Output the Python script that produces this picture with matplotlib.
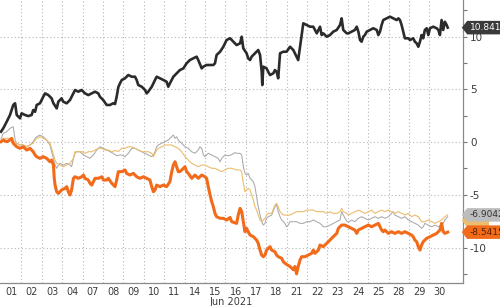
import numpy as np
import matplotlib
matplotlib.use("Agg")
import matplotlib.pyplot as plt
import matplotlib.transforms as mtransforms
from matplotlib.path import Path
from matplotlib.ticker import FixedLocator, NullFormatter

# ---- data: time in trading days since 01 Jun (fraction of day), value in %
day_labels = ["01", "02", "03", "04", "07", "08", "09", "10", "11", "14", "15",
              "16", "17", "18", "21", "22", "23", "24", "25", "28", "29", "30"]
month_label = "Jun 2021"

black_t = [0.00, 0.11, 0.28, 0.44, 0.60, 0.69, 0.77, 0.93, 1.01, 1.18, 1.34, 1.50, 1.58, 1.67, 1.75, 1.91,
           2.07, 2.16, 2.32, 2.48, 2.57, 2.73, 2.81, 2.97, 3.05, 3.22, 3.38, 3.46, 3.63, 3.79, 3.95, 4.12,
           4.28, 4.44, 4.61, 4.77, 4.85, 5.01, 5.18, 5.34, 5.50, 5.59, 5.67, 5.75, 5.83, 5.92, 6.08, 6.24,
           6.41, 6.57, 6.65, 6.73, 6.90, 7.06, 7.14, 7.22, 7.39, 7.55, 7.63, 7.79, 7.96, 8.12, 8.20, 8.28,
           8.45, 8.61, 8.77, 8.94, 9.10, 9.26, 9.43, 9.59, 9.67, 9.84, 9.92, 10.08, 10.25, 10.41, 10.49,
           10.57, 10.74, 10.90, 11.06, 11.23, 11.39, 11.55, 11.72, 11.80, 11.88, 12.04, 12.12, 12.21, 12.29,
           12.45, 12.61, 12.70, 12.78, 12.81, 12.86, 13.02, 13.10, 13.19, 13.35, 13.43, 13.51, 13.59, 13.68,
           13.84, 14.00, 14.17, 14.33, 14.41, 14.57, 14.66, 14.74, 14.82, 14.99, 15.15, 15.31, 15.48, 15.56,
           15.64, 15.72, 15.80, 15.97, 16.13, 16.29, 16.46, 16.62, 16.70, 16.78, 16.95, 17.03, 17.19, 17.35,
           17.44, 17.52, 17.60, 17.68, 17.76, 17.84, 17.93, 18.09, 18.25, 18.42, 18.50, 18.58, 18.66, 18.74,
           18.91, 19.07, 19.23, 19.40, 19.48, 19.56, 19.64, 19.72, 19.80, 19.97, 20.05, 20.21, 20.29, 20.38,
           20.46, 20.54, 20.62, 20.70, 20.78, 20.87, 20.95, 21.03, 21.19, 21.36, 21.44, 21.52, 21.60, 21.68,
           21.76, 21.85, 21.90]
black_v = [0.98, 1.30, 1.93, 2.56, 3.51, 3.67, 2.56, 2.25, 2.72, 2.56, 2.46, 2.56, 3.03, 2.87, 3.51, 3.67,
           4.29, 4.61, 4.45, 4.14, 3.67, 3.19, 3.82, 4.14, 3.82, 3.67, 3.98, 4.29, 4.93, 4.77, 4.93, 4.61,
           4.45, 4.61, 4.77, 4.61, 4.29, 3.98, 3.51, 3.51, 3.67, 3.60, 4.30, 5.20, 5.55, 5.88, 6.04, 6.35,
           6.19, 6.19, 5.88, 5.40, 5.24, 4.93, 4.61, 4.77, 5.24, 5.88, 6.19, 6.04, 5.88, 5.71, 5.24, 5.56,
           6.19, 6.51, 6.82, 6.98, 7.46, 7.77, 7.93, 8.09, 7.77, 6.98, 7.14, 7.30, 7.30, 7.30, 7.46,
           8.25, 8.56, 9.03, 9.67, 9.83, 9.51, 9.19, 9.35, 9.98, 8.88, 8.41, 7.93, 7.77, 8.09,
           8.41, 8.72, 8.25, 6.66, 5.40, 7.14, 6.98, 6.66, 6.35, 6.51, 6.82, 6.66, 6.04, 8.41,
           8.56, 8.56, 9.03, 8.72, 8.41, 7.77, 9.03, 10.14, 11.25, 11.09, 10.93, 10.93, 10.30, 10.62,
           10.93, 10.14, 10.30, 9.98, 10.14, 10.46, 10.62, 11.09, 11.72, 10.62, 10.30, 10.30, 10.46, 10.62,
           10.93, 10.46, 9.67, 9.51, 9.98, 10.14, 10.46, 10.62, 10.78, 10.62, 10.14, 10.46, 11.09, 11.56,
           11.72, 11.88, 11.72, 11.56, 11.72, 11.56, 11.09, 10.46, 9.83, 9.83, 9.67, 9.83, 9.51, 9.35,
           9.03, 9.51, 10.14, 9.83, 10.62, 10.78, 10.14, 10.78, 10.93, 10.78, 10.62, 10.14, 11.56, 10.62,
           11.40, 11.09, 10.8414]

orange_t = [0.00, 0.11, 0.28, 0.44, 0.52, 0.60, 0.77, 0.93, 1.09, 1.26, 1.42, 1.58, 1.67, 1.75, 1.91, 2.07,
            2.24, 2.40, 2.48, 2.57, 2.61, 2.65, 2.73, 2.81, 2.97, 3.14, 3.22, 3.30, 3.38, 3.46, 3.55, 3.63,
            3.79, 3.96, 4.04, 4.12, 4.28, 4.36, 4.45, 4.61, 4.77, 4.94, 5.02, 5.18, 5.26, 5.43, 5.59, 5.67,
            5.75, 5.92, 6.08, 6.16, 6.32, 6.49, 6.65, 6.81, 6.98, 7.14, 7.30, 7.39, 7.47, 7.55, 7.63, 7.79,
            7.96, 8.12, 8.28, 8.37, 8.45, 8.53, 8.61, 8.69, 8.77, 8.86, 8.94, 9.02, 9.10, 9.18, 9.35, 9.51,
            9.67, 9.84, 10.00, 10.08, 10.16, 10.25, 10.33, 10.41, 10.49, 10.57, 10.74, 10.90, 11.06, 11.23,
            11.31, 11.39, 11.55, 11.63, 11.72, 11.80, 11.88, 11.96, 12.04, 12.12, 12.21, 12.37, 12.53, 12.61,
            12.70, 12.78, 12.86, 12.94, 13.02, 13.10, 13.19, 13.27, 13.43, 13.51, 13.59, 13.76, 13.84, 14.00,
            14.17, 14.33, 14.41, 14.49, 14.57, 14.66, 14.74, 14.90, 15.06, 15.23, 15.31, 15.39, 15.56, 15.64,
            15.80, 15.97, 16.13, 16.29, 16.46, 16.54, 16.70, 16.86, 17.03, 17.19, 17.35, 17.44, 17.52, 17.68,
            17.84, 18.01, 18.17, 18.33, 18.50, 18.58, 18.66, 18.74, 18.82, 18.99, 19.15, 19.31, 19.48, 19.64,
            19.80, 19.97, 20.13, 20.21, 20.29, 20.38, 20.46, 20.54, 20.62, 20.70, 20.78, 20.87, 21.03, 21.19,
            21.36, 21.52, 21.60, 21.68, 21.76, 21.90]
orange_v = [0.03, 0.19, 0.03, 0.19, 0.35, -0.12, -0.45, -0.60, -0.45, -0.76, -0.60, -0.92, -1.23, -1.39, -1.55, -1.39,
            -1.55, -1.87, -1.71, -2.18, -3.44, -4.08, -4.71, -4.87, -4.55, -4.39, -4.23, -4.71, -5.02, -4.55, -3.44, -3.29,
            -3.44, -3.29, -3.13, -3.44, -3.60, -3.91, -4.08, -3.44, -3.44, -3.29, -3.60, -3.60, -3.44, -3.91, -4.23, -3.60,
            -2.81, -2.81, -2.65, -2.97, -3.13, -2.97, -3.29, -3.44, -3.29, -3.44, -3.60, -4.23, -4.71, -4.55, -4.08, -4.23,
            -4.08, -4.23, -3.76, -2.81, -2.18, -1.87, -2.34, -2.81, -2.81, -2.65, -2.49, -2.34, -2.81, -2.97, -3.44, -3.13,
            -3.44, -3.13, -3.29, -3.44, -4.23, -5.02, -5.66, -6.13, -6.76, -7.08, -7.23, -7.23, -7.39, -7.15,
            -7.55, -7.60, -7.71, -6.92, -6.29, -6.60, -7.55, -8.50, -8.18, -8.50, -8.82, -8.97, -9.29, -9.60,
            -10.24, -10.71, -10.87, -10.71, -10.24, -10.08, -9.92, -10.24, -10.40, -10.71, -10.87, -11.02, -11.35, -11.60,
            -11.80, -12.10, -11.80, -12.50, -11.80, -11.18, -10.87, -10.87, -10.71, -10.55, -10.24, -10.55, -10.24, -9.76,
            -9.92, -9.60, -9.29, -8.97, -8.66, -8.18, -7.87, -7.87, -8.03, -8.18, -8.34, -8.66, -8.34, -8.18,
            -8.03, -7.87, -8.03, -7.87, -7.71, -8.03, -8.34, -8.50, -8.34, -8.66, -8.50, -8.66, -8.50, -8.66,
            -8.50, -8.66, -8.82, -8.97, -9.29, -9.45, -9.92, -10.24, -9.76, -9.45, -9.29, -9.13, -8.97, -8.82,
            -8.66, -8.34, -7.71, -8.50, -8.66, -8.5415]

grey_t = [0.00, 0.11, 0.28, 0.44, 0.60, 0.69, 0.77, 0.93, 1.09, 1.26, 1.42, 1.58, 1.67, 1.75, 1.91, 2.07,
          2.24, 2.40, 2.48, 2.57, 2.65, 2.73, 2.81, 2.89, 3.05, 3.22, 3.38, 3.46, 3.55, 3.63, 3.71, 3.87,
          4.04, 4.20, 4.36, 4.53, 4.69, 4.85, 5.02, 5.18, 5.34, 5.50, 5.67, 5.83, 5.92, 6.08, 6.24, 6.41,
          6.57, 6.73, 6.90, 7.06, 7.22, 7.39, 7.47, 7.55, 7.63, 7.71, 7.88, 8.04, 8.20, 8.37, 8.45, 8.53,
          8.61, 8.69, 8.86, 9.02, 9.18, 9.35, 9.51, 9.67, 9.75, 9.84, 9.92, 10.00, 10.16, 10.33, 10.49, 10.65,
          10.74, 10.82, 10.98, 11.14, 11.31, 11.47, 11.55, 11.72, 11.80, 11.88, 11.96, 12.04, 12.12, 12.21,
          12.29, 12.37, 12.45, 12.53, 12.61, 12.70, 12.78, 12.86, 12.94, 13.02, 13.10, 13.27, 13.43, 13.51,
          13.59, 13.68, 13.76, 13.84, 13.92, 14.00, 14.08, 14.17, 14.33, 14.49, 14.66, 14.82, 14.99, 15.15,
          15.31, 15.48, 15.64, 15.80, 15.97, 16.13, 16.29, 16.46, 16.62, 16.70, 16.78, 16.95, 17.03, 17.19,
          17.35, 17.52, 17.68, 17.84, 18.01, 18.17, 18.33, 18.50, 18.66, 18.82, 18.99, 19.15, 19.23, 19.31,
          19.48, 19.64, 19.80, 19.97, 20.13, 20.29, 20.46, 20.62, 20.70, 20.78, 20.95, 21.11, 21.28, 21.44,
          21.60, 21.68, 21.76, 21.90]
grey_v = [0.30, 0.82, 0.98, 1.30, 1.45, 0.19, -0.12, -0.28, -0.28, -0.45, -0.28, 0.03, 0.35, 0.50, 0.66, 0.50,
          0.19, -0.28, -0.92, -1.55, -2.18, -2.49, -2.18, -2.02, -2.18, -2.02, -2.18, -2.34, -1.55, -1.07, -0.92, -0.92,
          -1.23, -1.39, -1.55, -1.23, -0.76, -0.45, -0.60, -0.76, -0.92, -1.07, -1.30, -1.23, -1.23, -1.39, -1.07, -0.60,
          -0.60, -0.76, -0.92, -1.07, -1.23, -1.39, -1.23, -0.92, -0.45, -0.28, -0.12, 0.03, 0.19, 0.50, 0.66, 0.35,
          0.50, 0.19, -0.12, -0.45, -0.60, -0.92, -1.07, -0.76, -0.45, -0.60, -1.23, -1.39, -1.07, -1.23, -1.39, -1.55,
          -1.87, -1.55, -1.23, -1.30, -1.20, -1.00, -1.07, -1.07, -1.23, -2.34, -2.97, -3.13, -2.97, -3.44,
          -3.60, -3.76, -4.23, -5.18, -6.13, -6.92, -7.55, -7.87, -7.71, -7.23, -7.08, -6.92, -6.13, -5.97,
          -6.60, -7.08, -7.39, -7.55, -7.71, -8.03, -7.87, -7.55, -7.55, -7.55, -7.71, -7.71, -7.55, -7.55,
          -7.39, -7.55, -7.71, -8.03, -8.03, -7.87, -7.71, -7.55, -7.39, -6.60, -6.92, -7.50, -7.60, -7.39,
          -7.55, -7.23, -7.08, -7.23, -7.39, -7.23, -7.08, -7.23, -7.08, -7.23, -7.08, -6.76, -6.60, -6.92,
          -7.08, -7.23, -7.08, -7.39, -7.55, -7.71, -7.87, -8.18, -8.03, -7.71, -7.87, -8.03, -7.87, -8.03,
          -7.87, -7.71, -7.39, -7.08]

tan_t = [0.00, 0.11, 0.28, 0.44, 0.60, 0.77, 0.93, 1.09, 1.26, 1.42, 1.58, 1.67, 1.75, 1.91, 2.07, 2.24,
         2.40, 2.48, 2.57, 2.65, 2.73, 2.89, 3.05, 3.22, 3.38, 3.55, 3.63, 3.79, 3.96, 4.12, 4.28, 4.44,
         4.61, 4.77, 4.94, 5.10, 5.26, 5.43, 5.59, 5.75, 5.92, 6.08, 6.24, 6.41, 6.57, 6.73, 6.90, 7.06,
         7.22, 7.39, 7.47, 7.55, 7.63, 7.71, 7.88, 8.04, 8.20, 8.37, 8.53, 8.69, 8.86, 9.02, 9.18, 9.35,
         9.51, 9.67, 9.84, 10.00, 10.16, 10.33, 10.49, 10.65, 10.82, 10.98, 11.14, 11.31, 11.55, 11.72,
         11.80, 11.88, 11.96, 12.04, 12.12, 12.21, 12.29, 12.37, 12.45, 12.53, 12.61, 12.70, 12.78, 12.86,
         12.94, 13.02, 13.10, 13.27, 13.43, 13.51, 13.59, 13.68, 13.76, 13.84, 14.00, 14.17, 14.33, 14.49,
         14.66, 14.82, 14.99, 15.15, 15.31, 15.48, 15.64, 15.80, 15.97, 16.13, 16.29, 16.46, 16.62, 16.70,
         16.78, 16.95, 17.03, 17.19, 17.35, 17.52, 17.68, 17.84, 18.01, 18.17, 18.33, 18.50, 18.66, 18.82,
         18.99, 19.15, 19.31, 19.48, 19.64, 19.80, 19.97, 20.13, 20.29, 20.46, 20.62, 20.78, 20.95, 21.11,
         21.28, 21.44, 21.60, 21.68, 21.76, 21.90]
tan_v = [0.00, 0.35, 0.35, 0.35, 0.03, -0.12, -0.28, -0.28, -0.45, -0.28, -0.12, 0.19, 0.35, 0.50, 0.35, 0.19,
         -0.12, -0.60, -1.23, -1.71, -2.02, -2.18, -2.34, -2.18, -2.02, -1.55, -0.92, -0.92, -0.92, -1.07, -0.92, -0.92,
         -0.76, -0.60, -0.60, -0.76, -0.76, -0.92, -0.80, -0.90, -0.60, -0.60, -0.45, -0.45, -0.60, -0.76, -0.92, -0.92,
         -0.92, -1.07, -1.39, -1.07, -0.76, -0.60, -0.45, -0.28, -0.28, -0.28, -0.45, -0.60, -0.92, -1.39, -1.71, -2.02,
         -2.18, -2.34, -2.18, -2.18, -2.34, -2.49, -2.49, -2.65, -2.81, -2.65, -2.49, -2.49, -2.65, -2.65,
         -2.81, -3.91, -4.71, -4.55, -4.39, -4.55, -5.02, -5.50, -6.13, -6.45, -6.92, -7.39, -7.55, -7.39,
         -7.23, -6.92, -6.76, -6.76, -5.97, -5.81, -6.13, -6.60, -6.76, -6.92, -6.92, -6.92, -6.76, -6.60,
         -6.60, -6.60, -6.45, -6.45, -6.45, -6.60, -6.60, -6.60, -6.76, -6.60, -6.76, -6.76, -6.60, -6.29,
         -6.60, -6.76, -6.92, -6.76, -6.60, -6.45, -6.60, -6.76, -6.60, -6.45, -6.76, -6.60, -6.45, -6.60,
         -6.45, -6.60, -6.76, -6.60, -6.76, -6.92, -6.76, -7.08, -6.92, -7.08, -7.55, -7.55, -7.39, -7.55,
         -7.71, -7.55, -7.39, -7.23, -7.08, -6.9042]

y_major = [-10, -5, 0, 5, 10]
y_minor = [-12.5, -7.5, -2.5, 2.5, 7.5, 12.5]

# ---- styles
c_black = "#2b2b2b"
c_orange = "#f26b1a"
c_grey = "#a9a9a9"
c_tan = "#ebbd6c"
c_text = "#3c3c3c"
c_grid = "#b5b5b5"

plt.rcParams["font.family"] = ["DejaVu Sans"]

fig = plt.figure(figsize=(5.0, 3.06), dpi=100)
fig.patch.set_facecolor("white")
ax = fig.add_axes([0.0, 0.0752, 0.926, 0.9248])

ax.plot(grey_t, grey_v, color=c_grey, lw=0.75, zorder=3)
ax.plot(tan_t, tan_v, color=c_tan, lw=0.8, zorder=3)
ax.plot(orange_t, orange_v, color=c_orange, lw=2.2, zorder=4, solid_joinstyle="round")
ax.plot(black_t, black_v, color=c_black, lw=1.9, zorder=5, solid_joinstyle="round")

ax.set_xlim(-0.05, 22.65)
ax.set_ylim(-13.36, 13.46)

# x: gridlines at day boundaries, labels at day centres
ax.xaxis.set_major_locator(FixedLocator(np.arange(1, len(day_labels))))
ax.xaxis.set_major_formatter(NullFormatter())
ax.xaxis.set_minor_locator(FixedLocator(np.arange(len(day_labels)) + 0.5))
ax.set_xticklabels(day_labels, minor=True)
ax.tick_params(axis="x", which="both", length=0, pad=3, labelsize=7, labelcolor=c_text)
ax.set_xlabel(month_label, fontsize=7, color=c_text, labelpad=0)

# y: right side
ax.yaxis.tick_right()
ax.set_yticks(y_major)
ax.set_yticks(y_minor, minor=True)
ax.set_yticklabels([str(v) for v in y_major])
ax.tick_params(axis="y", which="both", direction="out", length=3, width=0.8,
               color="#777777", labelsize=7.5, labelcolor=c_text, pad=2)

ax.grid(True, which="major", axis="both", linestyle=(0, (1, 2.2)), color=c_grid, lw=0.8)
ax.set_axisbelow(True)

for s in ("left", "top"):
    ax.spines[s].set_visible(False)
for s in ("right", "bottom"):
    ax.spines[s].set_color("#8a8a8a")
    ax.spines[s].set_linewidth(0.9)


def tag_box(x0, y0, width, height, mutation_size):
    """Rectangle with a pointed left end (price tag)."""
    pad = 0.25 * mutation_size
    x0, y0 = x0 - pad, y0 - pad
    w, h = width + 2 * pad, height + 2 * pad
    tip = 0.4 * h
    verts = [(x0 - tip, y0 + h / 2), (x0, y0 + h), (x0 + w, y0 + h),
             (x0 + w, y0), (x0, y0), (x0 - tip, y0 + h / 2)]
    codes = [Path.MOVETO] + [Path.LINETO] * 4 + [Path.CLOSEPOLY]
    return Path(verts, codes)


# value tags at the right edge
trans = mtransforms.blended_transform_factory(ax.transAxes, ax.transData)
tag_x = 1.014
# hidden tag (behind the others), box only
ax.text(tag_x, grey_v[-1] - 0.35, "      ", transform=trans, ha="left", va="center",
        fontsize=6.5, zorder=6, clip_on=False,
        bbox=dict(boxstyle=tag_box, fc=c_tan, ec="none"))
tags = [
    (tan_v[-1], "{:.4f}".format(tan_v[-1]), "#bdbdbd", "#333333", 7),
    (orange_v[-1], "{:.4f}".format(orange_v[-1]), c_orange, "#5a2200", 8),
    (black_v[-1], "{:.4f}".format(black_v[-1]), "#3a3a3a", "#ffffff", 8),
]
for yv, txt, fc, tc, z in tags:
    ax.text(tag_x, yv, txt, transform=trans, ha="left", va="center",
            fontsize=6.5, color=tc, zorder=z, clip_on=False,
            bbox=dict(boxstyle=tag_box, fc=fc, ec="none"))

fig.savefig("out.png", dpi=100, facecolor="white")
